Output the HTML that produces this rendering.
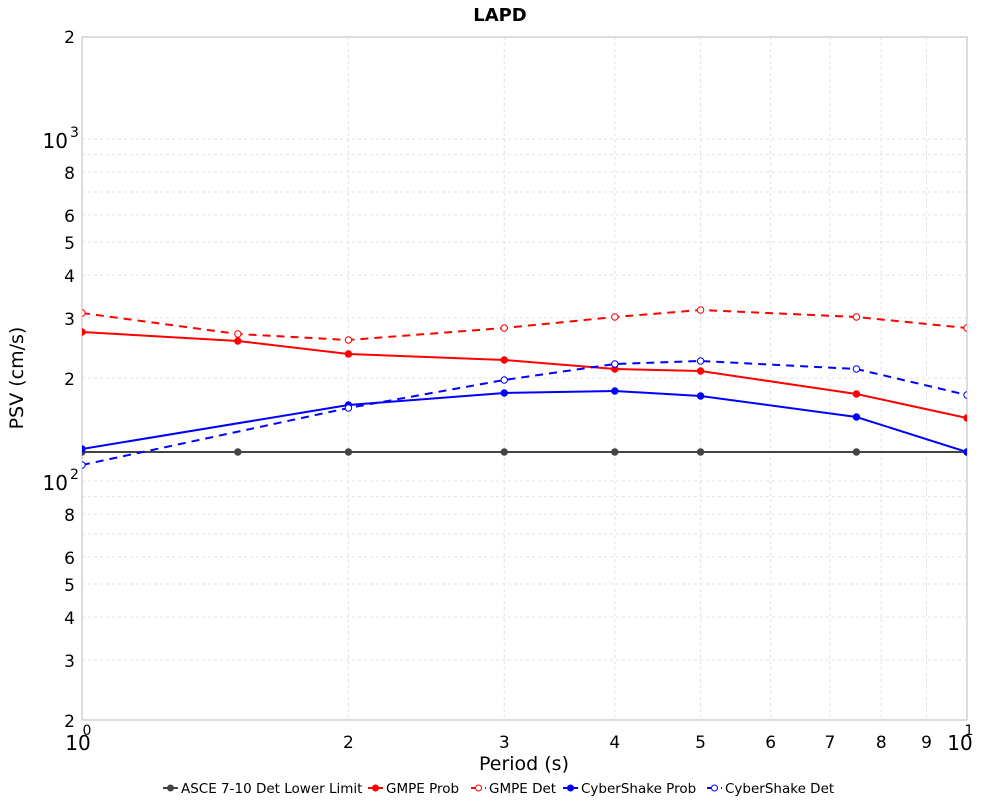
<!DOCTYPE html>
<html><head><meta charset="utf-8"><style>
body{margin:0;background:#fff;}
svg text{font-family:"DejaVu Sans","Liberation Sans",sans-serif;}
</style></head><body>
<svg id="s" width="1000" height="800" xmlns="http://www.w3.org/2000/svg"></svg>
<script>
const s=document.getElementById('s');
const X0=82,X1=967,Y0=37,Y1=720;
const xp=v=>X0+885*Math.log10(v);
const yp=v=>481-342*(Math.log10(v)-2);
let h='';
h+=`<rect x="${X0}" y="${Y0}" width="${X1-X0}" height="${Y1-Y0}" fill="#fff" stroke="#bbb"/>`;
for(let m=2;m<=9;m++){const x=xp(m);h+=`<line x1="${x}" y1="${Y0}" x2="${x}" y2="${Y1}" stroke="#e2e2e2" stroke-dasharray="3,3"/>`;
h+=`<text x="${x}" y="748" font-size="17" text-anchor="middle">${m}</text>`;}
for(let k=1;k<=3;k++){for(let m=1;m<=9;m++){const v=m*Math.pow(10,k);if(v<20||v>2000)continue;const y=yp(v);
if(y>Y0+1&&y<Y1-1)h+=`<line x1="${X0}" y1="${y}" x2="${X1}" y2="${y}" stroke="#e2e2e2" stroke-dasharray="3,3"/>`;
if(m==1)h+=`<text x="68" y="${y+9}" font-size="20" text-anchor="end">10</text><text x="70" y="${y-2}" font-size="14">${k}</text>`;
else if(m!=7&&m!=9)h+=`<text x="75" y="${y+7}" font-size="17" text-anchor="end">${m}</text>`;}}
h+=`<text x="78" y="750" font-size="20" text-anchor="middle">10</text><text x="87" y="735" font-size="14" text-anchor="middle">0</text>`;
h+=`<text x="960" y="750" font-size="20" text-anchor="middle">10</text><text x="969" y="735" font-size="14" text-anchor="middle">1</text>`;
h+=`<text x="500" y="21" font-size="18" font-weight="bold" text-anchor="middle">LAPD</text>`;
h+=`<text x="524" y="770" font-size="19" text-anchor="middle">Period (s)</text>`;
h+=`<text transform="translate(23,378) rotate(-90)" font-size="19" text-anchor="middle">PSV (cm/s)</text>`;
const P8=[1,1.5,2,3,4,5,7.5,10],P7=[1,2,3,4,5,7.5,10];
const series=[
{c:'#444',d:false,f:true,x:P8,y:[452,452,452,452,452,452,452,452]},
{c:'#f00',d:false,f:true,x:P8,y:[332,341,354,360,369,371,394,418]},
{c:'#f00',d:true,f:false,x:P8,y:[313,334,340,328,317,310,317,328]},
{c:'#00f',d:false,f:true,x:P7,y:[449,405,393,391,396,417,452]},
{c:'#00f',d:true,f:false,x:P7,y:[465,408,380,364,361,369,395]}];
h+=`<clipPath id="c"><rect x="${X0}" y="${Y0}" width="${X1-X0}" height="${Y1-Y0}"/></clipPath><g clip-path="url(#c)">`;
for(const se of series){const pts=se.x.map((v,i)=>xp(v)+','+se.y[i]).join(' ');
h+=`<polyline points="${pts}" fill="none" stroke="${se.c}" stroke-width="2" ${se.d?'stroke-dasharray="8,6"':''}/>`;
se.x.forEach((v,i)=>{h+=`<circle cx="${xp(v)}" cy="${se.y[i]}" r="3.2" fill="${se.f?se.c:'#fff'}" stroke="${se.c}" stroke-width="1"/>`;});}
h+='</g>';
const leg=[[163,'#444',0,1,'ASCE 7-10 Det Lower Limit'],[368,'#f00',0,1,'GMPE Prob'],[471,'#f00',1,0,'GMPE Det'],[563,'#00f',0,1,'CyberShake Prob'],[707,'#00f',1,0,'CyberShake Det']];
for(const [x,c,d,f,t] of leg){h+=`<line x1="${x}" y1="788" x2="${x+15}" y2="788" stroke="${c}" stroke-width="2" ${d?'stroke-dasharray="4,3"':''}/><circle cx="${x+7.5}" cy="788" r="3" fill="${f?c:'#fff'}" stroke="${c}"/><text x="${x+18}" y="793" font-size="13.5">${t}</text>`;}
s.innerHTML=h;
</script>
</body></html>
